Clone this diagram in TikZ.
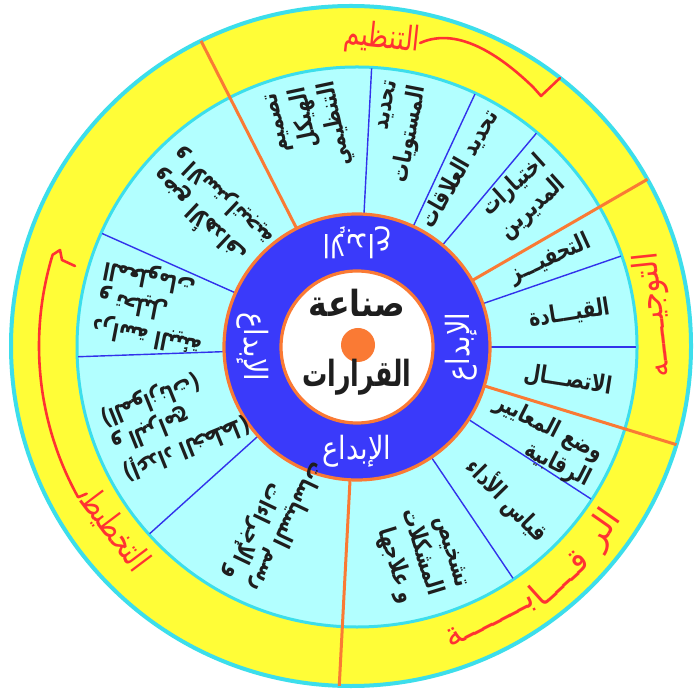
\documentclass[tikz,border=0pt]{standalone}
\usepackage{fontspec}
\TeXXeTstate=1
\newfontfamily\arf[Script=Arabic]{DejaVu Sans}
\usetikzlibrary{calc}
\definecolor{ylw}{RGB}{255,253,55}
\definecolor{cyb}{RGB}{60,222,235}
\definecolor{lcy}{RGB}{178,255,255}
\definecolor{dbl}{RGB}{58,58,250}
\definecolor{org}{RGB}{250,122,52}
\definecolor{rd}{RGB}{255,50,50}
\definecolor{txc}{RGB}{30,30,30}
\definecolor{bln}{RGB}{50,50,235}
\newcommand\rl[1]{\beginR #1\endR}
\newcommand\rn[2][0.78]{\scalebox{#1}[1]{\beginR #2\endR}}
\tikzset{
 sect/.style={font=\arf\bfseries\fontsize{12}{14.5}\selectfont, text=txc, align=right, inner sep=0pt, anchor=east},
 ringlab/.style={font=\arf\fontsize{16}{18}\selectfont, text=white, inner sep=0pt},
 ctr/.style={font=\arf\bfseries\fontsize{18}{20}\selectfont, text=txc, inner sep=0pt},
 lab/.style={font=\arf\fontsize{17}{20}\selectfont, text=rd, inner sep=0pt},
 bline/.style={draw=bln, line width=0.7pt},
 oline/.style={draw=org, line width=1.5pt},
 redstroke/.style={draw=rd, line width=1.3pt, line cap=round, line join=round},
}
\begin{document}
\begin{tikzpicture}[x=0.5pt,y=0.5pt]
\useasboundingbox (0,0) rectangle (694,690);
\fill[white] (0,0) rectangle (694,690);
\coordinate (O) at (351,344);
\coordinate (C) at (357,343);
% rings
\draw[cyb, line width=2pt, fill=ylw] (O) circle[radius=340];
\draw[cyb, line width=1.5pt, fill=lcy] (C) circle[radius=280];
% blue sector lines
\foreach \a/\n in {87/b1,65/b2,50/b3,19/b4,0/b5,-33/b6,-56/b7,222/b8,182/b9,156/b10}{
  \coordinate (\n i) at ($(C)+(\a:133)$);
  \coordinate (\n o) at ($(C)+(\a:279)$);
  \draw[bline] (\n i) -- (\n o);
}
% orange quadrant lines
\begin{scope}
\clip (O) circle[radius=340];
\foreach \a/\n in {117/q1,30/q2,-17/q3,-93/q4}{
  \coordinate (\n i) at ($(C)+(\a:133)$);
  \coordinate (\n o) at ($(C)+(\a:370)$);
  \draw[oline] (\n i) -- (\n o);
}
\end{scope}
% inner rings
\draw[org, line width=1.6pt, fill=dbl] (C) circle[radius=133];
\draw[org, line width=1.6pt, fill=white] (C) circle[radius=76];
\node[circle, fill=org, minimum size=17pt, inner sep=0pt] (dot) at (358,345) {};
\node[ctr] (c1) at (357,387) {\rn[0.88]{صناعة}};
\node[ctr] (c2) at (357,313) {\rn[0.7]{القرارات}};
% creativity labels
\node[ringlab] (e1) at ($(C)+(-90:104)$) {\rn[0.85]{الإبداع}};
\node[ringlab, rotate=180] (e2) at ($(C)+(90:104)$) {\rn[0.85]{الإبداع}};
\node[ringlab, rotate=90] (e3) at ($(C)+(0:104)$) {\rn[0.85]{الإبداع}};
\node[ringlab, rotate=-90] (e4) at ($(C)+(180:104)$) {\rn[0.85]{الإبداع}};
% sector texts: organizing
\node[sect, rotate=102] (s1) at ($(C)+(102:266)$) {\rn{تصميم}\\\rn{الهيكل}\\\rn{التنظيمي}};
\node[sect, rotate=79] (s2) at ($(C)+(79:268)$) {\rn{تحديد}\\\rn{المستويات}};
\node[sect, rotate=60] (s3) at ($(C)+(60:272)$) {\rn{تحديد العلاقات}};
\node[sect, rotate=42] (s4) at ($(C)+(42:264)$) {\rn{اختيارات}\\\rn{المديرين}};
% directing
\node[sect, rotate=24.5] (s5) at ($(C)+(24.5:256)$) {\rn{التحفيـــز}};
\node[sect, rotate=9] (s6) at ($(C)+(9:256)$) {\rn{القيـــادة}};
\node[sect, rotate=-9] (s7) at ($(C)+(-9:258)$) {\rn{الاتصـــال}};
% controlling
\node[sect, rotate=-27] (s8) at ($(C)+(-27:268)$) {\rn{وضع المعايير}\\\rn{الرقابية}};
\node[sect, rotate=-45.5] (s9) at ($(C)+(-45.5:268)$) {\rn{قياس الأداء}};
\node[sect, rotate=-73] (s10) at ($(C)+(-73:260)$) {\rn{تشخيص}\\\rn{المشكلات}\\\rn{و علاجها}};
% planning (upside down as in the picture)
\node[sect, rotate=244.5] (s11) at ($(C)+(244.5:264)$) {\rn{رسم السياسات}\\\rn{و الإجراءات}};
\node[sect, rotate=202] (s12) at ($(C)+(202:264)$) {\rn{(إعداد الخطط)}\\\rn{و البرامج}\\\rn{(الموازنات)}};
\node[sect, rotate=169] (s13) at ($(C)+(169:264)$) {\rn{دراسة البيئة}\\\rn{و تحليل}\\\rn{المعلومات}};
\node[sect, rotate=136.5] (s14) at ($(C)+(136.5:266)$) {\rn{وضع الأهداف}\\\rn{و الاستراتيجية}};
% red function labels
\node[lab, rotate=-6] (l1) at (382,651) {\rn[0.75]{التنظيم}};
\coordinate (h1a) at (533,603);
\coordinate (h1b) at (541,594);
\coordinate (h1c) at (560,612);
\draw[redstroke] (l1.east) .. controls (460,665) and (505,630) .. (h1a) -- (h1b) -- (h1c);
\node[lab, rotate=96] (l2) at (654,375) {\rn[0.85]{التوجيـــــه}};
\node[lab, rotate=55] (l3a) at ($(O)+(-36:312)$) {\rl{الر}};
\node[lab, rotate=42] (l3b) at ($(O)+(-48:310)$) {\rl{قــــا}};
\node[lab, rotate=27] (l3c) at ($(O)+(-63:308)$) {\rl{بـــــــة}};
\node[lab, rotate=-53] (l4) at ($(O)+(218:300)$) {\rn[0.75]{التخطيط}};
\coordinate (h4a) at ($(O)+(209:312)$);
\coordinate (h4b) at (60,440);
\coordinate (h4c) at (62,430);
\coordinate (h4d) at (75,424);
\draw[redstroke] (l4.west) -- (h4a) arc[start angle=209, end angle=163, radius=312] -- (h4b) -- (h4c) -- (h4d);
\end{tikzpicture}
\end{document}
